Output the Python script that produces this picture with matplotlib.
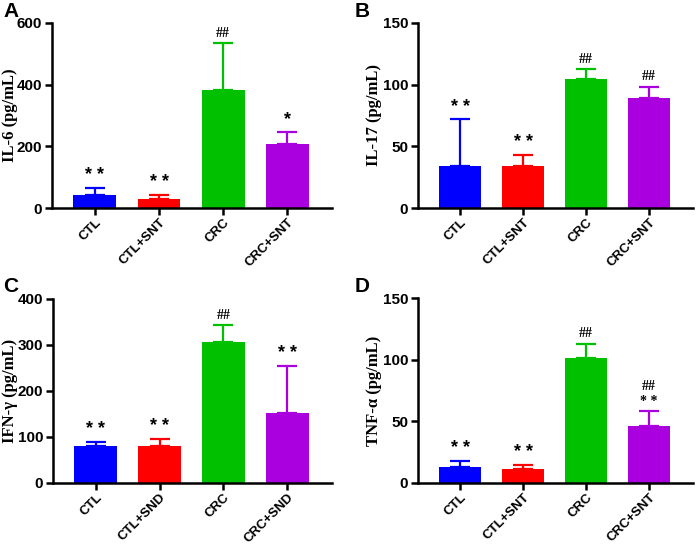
import matplotlib.pyplot as plt

colors = ['#0000ff', '#ff0000', '#00c000', '#aa00e0']

labels_snt = ['CTL', 'CTL+SNT', 'CRC', 'CRC+SNT']
labels_snd = ['CTL', 'CTL+SND', 'CRC', 'CRC+SND']

il6_mean = [41, 30, 383, 208]
il6_err = [24, 13, 151, 39]
il6_marks = ['* *', '* *', '##', '*']

il17_mean = [34, 34, 105, 89]
il17_err = [38, 9, 7.5, 9]
il17_marks = ['* *', '* *', '##', '##']

ifn_mean = [80, 80, 307, 152]
ifn_err = [9, 16, 36, 102]
ifn_marks = ['* *', '* *', '##', '* *']

tnf_mean = [13, 11, 101, 46]
tnf_err = [5, 4, 12, 12]
tnf_marks = ['* *', '* *', '##', '##\n* *']

panels = [
    ('A', il6_mean, il6_err, il6_marks, labels_snt, 'IL-6', 600, 200),
    ('B', il17_mean, il17_err, il17_marks, labels_snt, 'IL-17', 150, 50),
    ('C', ifn_mean, ifn_err, ifn_marks, labels_snd, 'IFN-\u03b3', 400, 100),
    ('D', tnf_mean, tnf_err, tnf_marks, labels_snt, 'TNF-\u03b1', 150, 50),
]

# axes rectangles in pixels (left, top, right, bottom)
boxes = [(52, 23, 332, 208), (418, 23, 693, 208),
         (53, 299, 332, 483), (418, 298, 693, 483)]
# panel letter positions (px from top-left) and y label right edge (px)
letter_pos = [(3, 2), (355, 2), (3, 277), (355, 277)]
label_x = [18, 382, 18, 382]

fig = plt.figure(figsize=(7, 5.48), dpi=100)

for (letter, mean, err, marks, labels, name, ymax, step), box, lp, lx in zip(panels, boxes, letter_pos, label_x):
    l, t, r, b = box
    ax = fig.add_axes((l / 700, 1 - b / 548, (r - l) / 700, (b - t) / 548))
    x = list(range(len(mean)))
    ax.bar(x, mean, width=0.67, color=colors, zorder=2)
    for i in x:
        ax.errorbar(i, mean[i], yerr=[[0], [err[i]]], color=colors[i],
                    capsize=7.5, elinewidth=1.6, capthick=1.6, zorder=1)
        top = mean[i] + err[i] + ymax * 0.02
        m = marks[i]
        if m.startswith('#'):
            ax.text(i, top, m, ha='center', va='bottom', fontsize=10,
                    family='Liberation Serif', fontweight='bold')
        elif '\n' in m:
            ax.text(i, top, '* *', ha='center', va='bottom', fontsize=13,
                    family='Liberation Sans', fontweight='bold')
            ax.text(i, top + ymax * 0.1, '##', ha='center', va='bottom',
                    fontsize=10, family='Liberation Serif', fontweight='bold')
        else:
            ax.text(i, top, m, ha='center', va='bottom', fontsize=13,
                    family='Liberation Sans', fontweight='bold')
    ax.set_xlim(-0.67, 3.7)
    ax.set_ylim(0, ymax)
    ax.set_yticks(range(0, ymax + 1, step))
    ax.set_xticks(x)
    ax.set_xticklabels(labels, rotation=45, ha='right', rotation_mode='anchor',
                       family='Liberation Sans', fontweight='bold', fontsize=9.5)
    for tl in ax.get_yticklabels():
        tl.set_family('Liberation Sans')
        tl.set_fontweight('bold')
        tl.set_fontsize(11)
    ax.spines['top'].set_visible(False)
    ax.spines['right'].set_visible(False)
    ax.spines['left'].set_linewidth(1.8)
    ax.spines['bottom'].set_linewidth(1.8)
    ax.tick_params(width=1.8, length=5, direction='out', pad=2)
    ax.tick_params(axis='x', pad=1)
    ax.set_ylabel(name + ' (pg/mL)', family='Liberation Serif',
                  fontweight='bold', fontsize=12)
    ax.yaxis.set_label_coords((lx - l) / (r - l), 0.5)
    fig.text(lp[0] / 700, 1 - lp[1] / 548, letter, fontsize=15,
             fontweight='bold', family='Liberation Sans', ha='left', va='top')

fig.savefig('out.png', dpi=100)
